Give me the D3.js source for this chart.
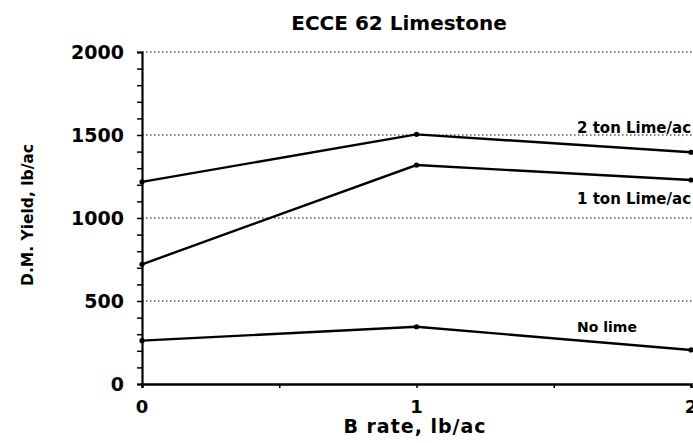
<!DOCTYPE html>
<html>
<head>
<meta charset="utf-8">
<script src="https://cdn.jsdelivr.net/npm/d3@7"></script>
<style>
  body { margin: 0; background: #fff; }
  text { font-family: "DejaVu Sans", sans-serif; font-weight: bold; fill: #000; }
</style>
</head>
<body>
<div id="chart"></div>
<script>
const bRates = [0, 1, 2];
const noLime = [261, 345, 205];
const oneTon = [721, 1319, 1229];
const twoTon = [1218, 1504, 1396];
const seriesNames = ["No lime", "1 ton Lime/ac", "2 ton Lime/ac"];
const yTicks = [0, 500, 1000, 1500, 2000];
const xTicks = [0, 1, 2];

const width = 693;
const height = 443;

const svg = d3.select("#chart").append("svg")
  .attr("width", width)
  .attr("height", height);

const x = d3.scaleLinear().domain([0, 2]).range([142, 691]);
const y = d3.scaleLinear().domain([0, 2000]).range([384, 52]);

// dotted grid
svg.selectAll(".grid")
  .data(yTicks.filter(d => d > 0))
  .enter().append("line")
  .attr("x1", x(0)).attr("x2", width)
  .attr("y1", d => y(d)).attr("y2", d => y(d))
  .attr("stroke", "#000")
  .attr("stroke-width", 1.2)
  .attr("stroke-dasharray", "1.5,2.5");

// y axis
const yAxis = svg.append("g")
  .attr("transform", `translate(${x(0)},0)`)
  .call(d3.axisLeft(y).tickValues(d3.range(0, 2001, 100)).tickSize(5).tickFormat(""));
yAxis.select(".domain").attr("stroke-width", 2.2);
yAxis.selectAll(".tick line").attr("stroke-width", 1.5);

svg.selectAll(".ylab")
  .data(yTicks)
  .enter().append("text")
  .attr("x", 124)
  .attr("y", d => y(d))
  .attr("dy", "0.38em")
  .attr("text-anchor", "end")
  .attr("font-size", 19)
  .text(d => d);

// x axis
const xAxis = svg.append("g")
  .attr("transform", `translate(0,${y(0)})`)
  .call(d3.axisBottom(x).tickValues([0, 0.5, 1, 1.5, 2]).tickSize(4).tickFormat(""));
xAxis.select(".domain").attr("stroke-width", 2.5);
xAxis.selectAll(".tick line").attr("stroke-width", 1.5);

svg.selectAll(".xlab")
  .data(xTicks)
  .enter().append("text")
  .attr("x", d => x(d))
  .attr("y", 413)
  .attr("text-anchor", "middle")
  .attr("font-size", 18)
  .text(d => d);

// lines
const series = [noLime, oneTon, twoTon];
const line = d3.line().x((d, i) => x(bRates[i])).y(d => y(d));

svg.selectAll(".series")
  .data(series)
  .enter().append("path")
  .attr("d", line)
  .attr("fill", "none")
  .attr("stroke", "#000")
  .attr("stroke-width", 2.4);

series.forEach(s => {
  svg.selectAll(null)
    .data(s)
    .enter().append("circle")
    .attr("cx", (d, i) => x(bRates[i]))
    .attr("cy", d => y(d))
    .attr("r", 2.6)
    .attr("fill", "#000");
});

// series labels
const labelY = [332, 204, 133];
svg.selectAll(".slab")
  .data(seriesNames)
  .enter().append("text")
  .attr("x", 577)
  .attr("y", (d, i) => labelY[i])
  .attr("font-size", (d, i) => i === 0 ? 14 : 15)
  .text(d => d);

// titles
svg.append("text")
  .attr("x", 399)
  .attr("y", 30)
  .attr("text-anchor", "middle")
  .attr("font-size", 20)
  .text("ECCE 62 Limestone");

svg.append("text")
  .attr("x", 415)
  .attr("y", 433)
  .attr("text-anchor", "middle")
  .attr("font-size", 19)
  .attr("letter-spacing", 1)
  .text("B rate, lb/ac");

svg.append("text")
  .attr("transform", "translate(33,215) rotate(-90)")
  .attr("text-anchor", "middle")
  .attr("font-size", 15.5)
  .text("D.M. Yield, lb/ac");
</script>
</body>
</html>
